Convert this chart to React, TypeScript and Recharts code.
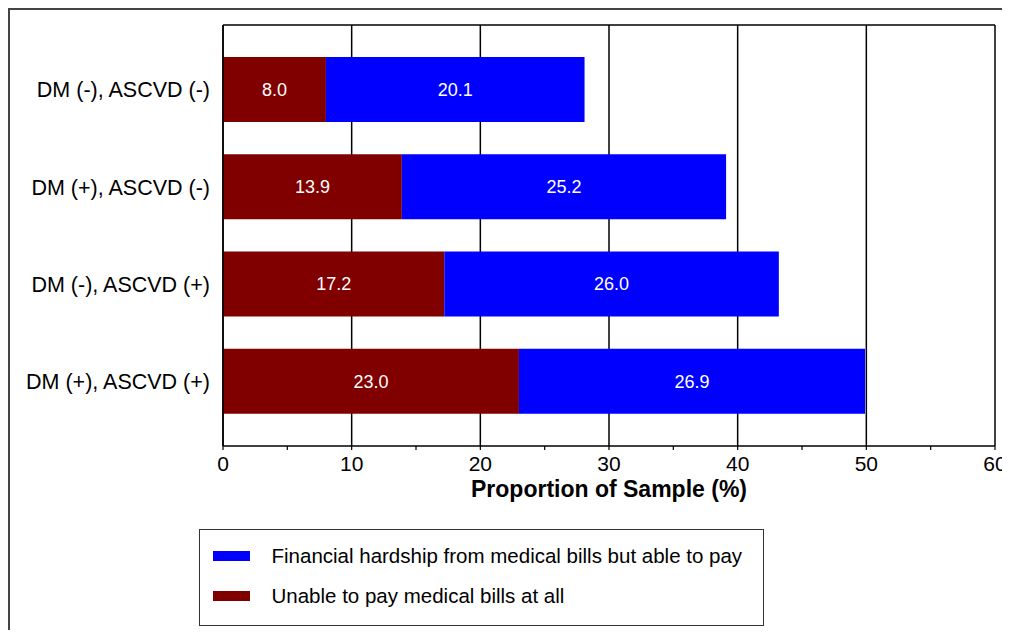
import {
  BarChart,
  Bar,
  XAxis,
  YAxis,
  CartesianGrid,
  LabelList,
} from "recharts";

const groups = [
  "DM (-), ASCVD (-)",
  "DM (+), ASCVD (-)",
  "DM (-), ASCVD (+)",
  "DM (+), ASCVD (+)",
];
const unableToPay = [8.0, 13.9, 17.2, 23.0];
const hardshipButPaid = [20.1, 25.2, 26.0, 26.9];
const xTicks = [0, 5, 10, 15, 20, 25, 30, 35, 40, 45, 50, 55, 60];
const gridValues = [0, 10, 20, 30, 40, 50, 60];
const xMax = 60;

const seriesNames = {
  hardship: "Financial hardship from medical bills but able to pay",
  unable: "Unable to pay medical bills at all",
};
const colors = { hardship: "#0000ff", unable: "#800000" };

const data = groups.map((name, i) => ({
  name,
  unable: unableToPay[i],
  hardship: hardshipButPaid[i],
}));

const font = '"Liberation Sans", Arial, Helvetica, sans-serif';

// grid only on the major ticks; use the axis scale when it is handed over
const majorGrid = ({ xAxis, offset }: any) => {
  const sc = xAxis && xAxis.scale;
  if (typeof sc === "function") return gridValues.map((v) => sc(v));
  if (sc && typeof sc.map === "function") return gridValues.map((v) => sc.map(v));
  return gridValues.map((v) => offset.left + (offset.width * v) / xMax);
};

export default function App() {
  return (
    <div
      style={{
        position: "relative",
        width: 994,
        height: 622,
        borderTop: "2px solid #444",
        borderLeft: "2px solid #444",
        boxSizing: "border-box",
        fontFamily: font,
      }}
    >
      <style>{".recharts-surface{overflow:visible}"}</style>
      <div
        style={{
          position: "absolute",
          left: -2,
          top: -2,
          width: 1002,
          height: 510,
          overflow: "visible",
        }}
      >
        <BarChart
          width={1002}
          height={510}
          data={data}
          layout="vertical"
          barCategoryGap={16}
          margin={{ top: 17, right: 15, bottom: 12, left: 15 }}
          style={{ overflow: "visible" }}
        >
          <CartesianGrid
            stroke="#000"
            strokeWidth={1.5}
            fill="none"
            verticalCoordinatesGenerator={majorGrid}
            horizontalCoordinatesGenerator={({ offset }: any) => [offset.top]}
          />
          <XAxis
            type="number"
            domain={[0, xMax]}
            ticks={xTicks}
            interval={0}
            height={60}
            axisLine={{ stroke: "#000", strokeWidth: 1.5 }}
            tickLine={{ stroke: "#000", strokeWidth: 1.2 }}
            tickSize={4}
            tickMargin={6}
            tickFormatter={(v) => (v % 10 === 0 ? String(v) : "")}
            tick={{ fill: "#000", fontSize: 21, fontFamily: font }}
            label={{
              value: "Proportion of Sample (%)",
              position: "insideBottom",
              offset: 9,
              style: {
                fill: "#000",
                fontSize: 23,
                fontWeight: "bold",
                fontFamily: font,
              },
            }}
          />
          <YAxis
            type="category"
            dataKey="name"
            width={200}
            padding={{ top: 16, bottom: 16 }}
            axisLine={{ stroke: "#000", strokeWidth: 1.5 }}
            tickLine={false}
            tickSize={0}
            tickMargin={13}
            tick={{ fill: "#000", fontSize: 21.5, fontFamily: font }}
          />
          <Bar
            dataKey="unable"
            name={seriesNames.unable}
            stackId="a"
            fill={colors.unable}
            isAnimationActive={false}
          >
            <LabelList
              dataKey="unable"
              position="center"
              fill="#fff"
              fontSize={18}
              fontFamily={font}
              formatter={(v: number) => v.toFixed(1)}
            />
          </Bar>
          <Bar
            dataKey="hardship"
            name={seriesNames.hardship}
            stackId="a"
            fill={colors.hardship}
            isAnimationActive={false}
          >
            <LabelList
              dataKey="hardship"
              position="center"
              fill="#fff"
              fontSize={18}
              fontFamily={font}
              formatter={(v: number) => v.toFixed(1)}
            />
          </Bar>
        </BarChart>
      </div>
      <div
        style={{
          position: "absolute",
          left: 189,
          top: 519,
          width: 565,
          height: 97,
          border: "1.5px solid #333",
          boxSizing: "border-box",
          padding: "6px 0 0 12.5px",
        }}
      >
        {(["hardship", "unable"] as const).map((key) => (
          <div
            key={key}
            style={{
              display: "flex",
              alignItems: "center",
              height: 40,
              fontSize: 20.5,
              color: "#000",
              whiteSpace: "nowrap",
            }}
          >
            <span
              style={{
                display: "inline-block",
                flexShrink: 0,
                width: 37,
                height: 10,
                background: colors[key],
                marginRight: 22,
              }}
            />
            {seriesNames[key]}
          </div>
        ))}
      </div>
    </div>
  );
}
